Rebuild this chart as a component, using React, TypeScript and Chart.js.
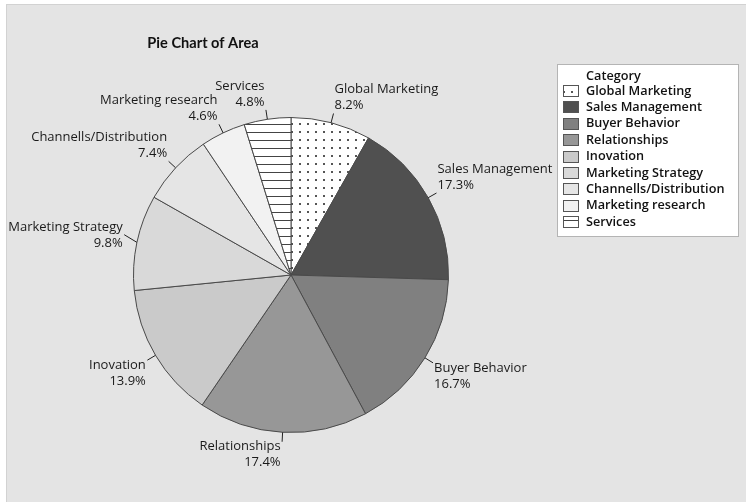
import { useEffect, useRef } from 'react';
import { Chart, registerables } from 'chart.js';

Chart.register(...registerables);

const chartTitle = 'Pie Chart of Area';
const legendTitle = 'Category';
const categories = [
  'Global Marketing',
  'Sales Management',
  'Buyer Behavior',
  'Relationships',
  'Inovation',
  'Marketing Strategy',
  'Channells/Distribution',
  'Marketing research',
  'Services',
];
const percentages = [8.2, 17.3, 16.7, 17.4, 13.9, 9.8, 7.4, 4.6, 4.8];
const sliceFills = ['dots', '#505050', '#808080', '#979797', '#cacaca', '#d9d9d9', '#e5e5e5', '#f2f2f2', 'hlines'];

const LABEL_FONT = '13px "Open Sans", "Noto Sans", sans-serif';
const BOLD_FONT = '600 12.7px "Open Sans", "Noto Sans", sans-serif';
const TITLE_FONT = '700 14.6px Lato, "Open Sans", sans-serif';

function makePattern(kind: string): CanvasPattern | string {
  const c = document.createElement('canvas');
  c.width = 8;
  c.height = 8;
  const g = c.getContext('2d')!;
  g.fillStyle = '#ffffff';
  g.fillRect(0, 0, 8, 8);
  if (kind === 'dots') {
    g.fillStyle = '#555555';
    g.fillRect(3, 3, 2, 2);
  } else {
    g.fillStyle = '#444444';
    g.fillRect(0, 4, 8, 1);
  }
  const ctx = document.createElement('canvas').getContext('2d')!;
  return ctx.createPattern(c, 'repeat') || '#ffffff';
}

const decorPlugin = {
  id: 'decor',
  beforeDraw(chart: any) {
    const ctx = chart.ctx as CanvasRenderingContext2D;
    ctx.save();
    ctx.fillStyle = '#ffffff';
    ctx.fillRect(0, 0, chart.width, chart.height);
    ctx.fillStyle = '#d2d2d2';
    ctx.fillRect(6, 4, chart.width - 6, chart.height - 4);
    ctx.fillStyle = '#e4e4e4';
    ctx.fillRect(7, 5, chart.width - 7, chart.height - 5);
    ctx.restore();
  },
  afterDatasetsDraw(chart: any) {
    const ctx = chart.ctx as CanvasRenderingContext2D;
    const meta = chart.getDatasetMeta(0);
    const ds = chart.data.datasets[0];
    ctx.save();
    // title
    ctx.fillStyle = '#111111';
    ctx.font = TITLE_FONT;
    ctx.textAlign = 'center';
    ctx.textBaseline = 'middle';
    ctx.fillText(chartTitle, 203, 43);

    // slice labels with leader lines
    ctx.font = LABEL_FONT;
    meta.data.forEach((arc: any, i: number) => {
      const p = arc.getProps(['x', 'y', 'startAngle', 'endAngle', 'outerRadius'], true);
      const a = (p.startAngle + p.endAngle) / 2;
      const cos = Math.cos(a);
      const sin = Math.sin(a);
      const r = p.outerRadius;
      const x0 = p.x + cos * r;
      const y0 = p.y + sin * r;
      const len = Math.abs(sin) < 0.3 ? 13 : 9.5;
      const x1 = p.x + cos * (r + len);
      const y1 = p.y + sin * (r + len) - (Math.abs(sin) < 0.3 ? 5 : 0);
      ctx.strokeStyle = '#222222';
      ctx.lineWidth = 1;
      ctx.beginPath();
      ctx.moveTo(x0, y0);
      ctx.lineTo(x1, y1);
      ctx.stroke();
      const right = cos >= 0;
      ctx.textAlign = right ? 'left' : 'right';
      const tx = right ? x1 + 1 : x1 - 1.5;
      let c1: number;
      if (sin < -0.3) c1 = y1 - 24;
      else if (sin > 0.3) c1 = y1 + 5;
      else c1 = y1 - 7;
      ctx.fillStyle = '#1a1a1a';
      ctx.fillText(chart.data.labels[i], tx, c1);
      ctx.fillText(ds.data[i].toFixed(1) + '%', tx, c1 + 16);
    });

    // legend
    const lx = 557, ly = 64, lw = 181, lh = 172;
    ctx.fillStyle = '#ffffff';
    ctx.fillRect(lx, ly, lw, lh);
    ctx.strokeStyle = '#b4b4b4';
    ctx.strokeRect(lx + 0.5, ly + 0.5, lw, lh);
    ctx.textAlign = 'left';
    ctx.font = BOLD_FONT;
    ctx.fillStyle = '#111111';
    ctx.fillText(legendTitle, 586, 76);
    chart.data.labels.forEach((lab: string, i: number) => {
      const cy = 91 + i * 16.4;
      ctx.fillStyle = ds.backgroundColor[i];
      const sy = Math.round(cy - 6);
      ctx.fillRect(563, sy, 16, 12);
      ctx.strokeStyle = '#555555';
      ctx.strokeRect(563.5, sy + 0.5, 15, 11);
      ctx.fillStyle = '#111111';
      ctx.fillText(lab, 586, cy);
    });
    ctx.restore();
  },
};

export default function App() {
  const ref = useRef<HTMLCanvasElement | null>(null);
  useEffect(() => {
    document.body.style.margin = '0';
    const canvas = ref.current!;
    const fills = sliceFills.map((f) => (f === 'dots' || f === 'hlines' ? makePattern(f) : f));
    const chart = new Chart(canvas, {
      type: 'pie',
      data: {
        labels: categories,
        datasets: [
          {
            data: percentages,
            backgroundColor: fills as any,
            borderColor: '#4a4a4a',
            borderWidth: 1,
          },
        ],
      },
      options: {
        responsive: false,
        animation: false,
        layout: { padding: { left: 133, right: 297, top: 117, bottom: 69 } },
        plugins: {
          legend: { display: false },
          title: { display: false },
          tooltip: { enabled: false },
        },
      },
      plugins: [decorPlugin],
    });
    return () => chart.destroy();
  }, []);
  return (
    <div style={{ width: 746, height: 502 }}>
      <canvas ref={ref} width={746} height={502} />
    </div>
  );
}
